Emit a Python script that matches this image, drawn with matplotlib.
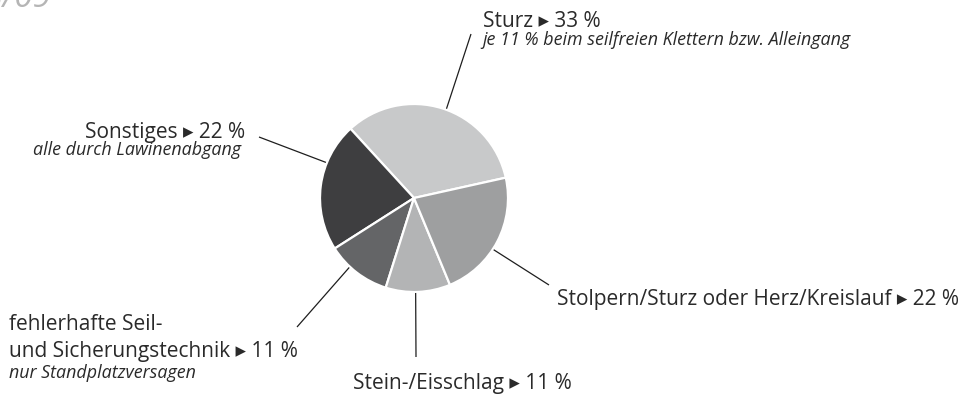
import numpy as np
import matplotlib
matplotlib.use("Agg")
import matplotlib.pyplot as plt

# Todesursachen (Anteile in %)
categories = ["Sturz", "Sonstiges", "fehlerhafte Seil- und Sicherungstechnik",
              "Stein-/Eisschlag", "Stolpern/Sturz oder Herz/Kreislauf"]
shares = [33, 22, 11, 11, 22]
colors = ["#c8c9ca", "#3e3e40", "#646567", "#b3b4b5", "#9e9fa0"]

W, H = 960, 394
fig = plt.figure(figsize=(W / 100, H / 100), dpi=100)
ax = fig.add_axes([0, 0, 1, 1])

FONT = ["Open Sans", "DejaVu Sans"]
TXT = "#2a2a2a"


def Y(y):
    """Pixel row measured from the top edge -> data y."""
    return H - y


cx, cy, R = 414, 198, 94
ax.pie(shares, colors=colors, startangle=12.5, counterclock=True,
       center=(cx, Y(cy)), radius=R,
       wedgeprops=dict(edgecolor="white", linewidth=1.6))

ax.set_xlim(0, W)
ax.set_ylim(0, H)
ax.set_aspect("equal")
ax.axis("off")

# leader lines: start angle on the rim (deg), end point (px from top-left)
leaders = [(70, (471, 34)), (158, (259, 137)), (227, (297, 327)),
           (271, (416, 357)), (327, (549, 285))]
for ang, (ex, ey) in leaders:
    a = np.deg2rad(ang)
    sx, sy = cx + (R + 1) * np.cos(a), Y(cy) + (R + 1) * np.sin(a)
    ax.plot([sx, ex], [sy, Y(ey)], color="#1e1e1e", lw=0.9,
            solid_capstyle="butt")

BIG = 15
SMALL = 12.9


def main(x, y, s, ha="left"):
    ax.text(x, Y(y), s, ha=ha, va="baseline", fontsize=BIG, color=TXT,
            family=FONT)


def note(x, y, s, ha="left"):
    ax.text(x, Y(y), s, ha=ha, va="baseline", fontsize=SMALL, color=TXT,
            family=FONT, style="italic")


main(483, 27, f"Sturz \u25B8 {shares[0]} %")
note(482, 45, "je 11 % beim seilfreien Klettern bzw. Alleingang")

main(245, 138, f"Sonstiges \u25B8 {shares[1]} %", ha="right")
note(241, 155, "alle durch Lawinenabgang", ha="right")

main(9, 330, "fehlerhafte Seil-")
main(9, 357, f"und Sicherungstechnik \u25B8 {shares[2]} %")
note(9, 378, "nur Standplatzversagen")

main(353, 389, f"Stein-/Eisschlag \u25B8 {shares[3]} %")

main(557, 305, f"Stolpern/Sturz oder Herz/Kreislauf \u25B8 {shares[4]} %")

# partly visible heading at the top-left edge
ax.text(52, Y(7), "2008/09", ha="right", va="baseline", fontsize=24,
        color="#b5b5b5", family=FONT, style="italic")

fig.savefig("out.png", dpi=100, facecolor="white")
